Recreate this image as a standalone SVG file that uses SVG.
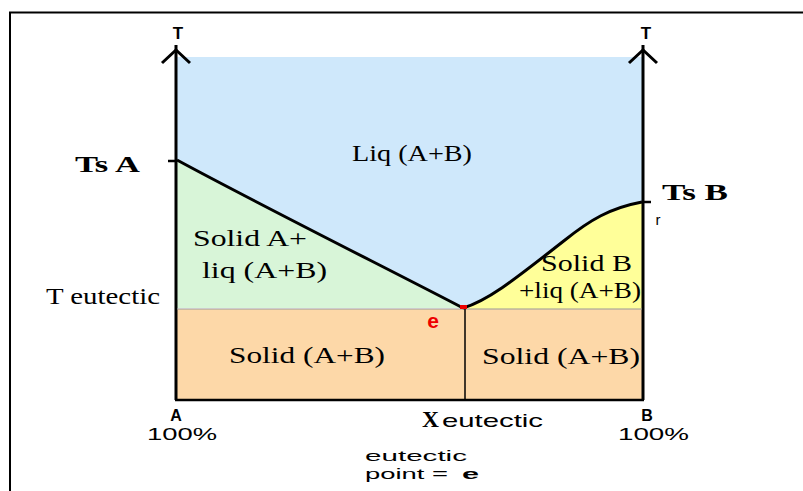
<svg xmlns="http://www.w3.org/2000/svg" width="803" height="491" viewBox="0 0 803 491">
<style>
.serif{font-family:"Liberation Serif","Times New Roman",serif;fill:#000}
.sans{font-family:"Liberation Sans",Arial,sans-serif;fill:#000}
.axis{stroke:#000;stroke-width:3;fill:none}
.curve{stroke:#000;stroke-width:3;fill:none}
</style>
<rect width="803" height="491" fill="#fff"/>
<path d="M10 491 V12.5 H803" fill="none" stroke="#000" stroke-width="2"/>
<g id="regions">
<path d="M177 57 H642 V202 C610 208 590 220 565 240 C520 275 490 300 463 308 C400 275 260 205 177 160 Z" fill="#cfe8fb"/>
<path d="M177 160 C260 205 400 275 463 308 H177 Z" fill="#d8f5d8"/>
<path d="M463 308 C490 300 520 275 565 240 C590 220 610 208 642 202 V309 H463 Z" fill="#ffff99"/>
<rect x="177" y="309" width="465" height="90" fill="#fdd8a8"/>
</g>
<g id="connectors">
<line class="axis" x1="176" y1="400" x2="176" y2="45"/>
<path d="M162 63 L176 50 L190 63" class="axis" stroke-width="3.5"/>
<line class="axis" x1="643" y1="400" x2="643" y2="45"/>
<path d="M629 63 L643 50 L657 63" class="axis" stroke-width="3.5"/>
<line x1="175" y1="400" x2="644" y2="400" stroke="#000" stroke-width="2.5"/>
<line x1="177" y1="309" x2="642" y2="309" stroke="#999" stroke-width="1.2"/>
<line x1="465" y1="309" x2="465" y2="400" stroke="#000" stroke-width="1.5"/>
<path class="curve" d="M177 160 C260 205 400 275 463 308"/>
<path class="curve" d="M463 308 C490 300 520 275 565 240 C590 220 610 208 642 202"/>
<line x1="168" y1="161" x2="177" y2="161" stroke="#000" stroke-width="2.5"/>
<line x1="642" y1="202" x2="651" y2="202" stroke="#000" stroke-width="2.5"/>
<rect x="460" y="305" width="7" height="4" fill="#e00"/>
</g>
<g id="labels">
<text class="sans" x="178" y="39" font-size="17" text-anchor="middle" font-weight="bold">T</text>
<text class="sans" x="646" y="39" font-size="17" text-anchor="middle" font-weight="bold">T</text>
<text class="serif" x="75" y="172" font-size="23" font-weight="bold" textLength="65" lengthAdjust="spacingAndGlyphs">Ts A</text>
<text class="serif" x="662" y="200" font-size="23" font-weight="bold" textLength="66" lengthAdjust="spacingAndGlyphs">Ts B</text>
<text class="sans" x="658" y="225" font-size="15" text-anchor="middle">r</text>
<text class="serif" x="352" y="161" font-size="23" textLength="120" lengthAdjust="spacingAndGlyphs">Liq (A+B)</text>
<text class="serif" x="193" y="246" font-size="23" textLength="114" lengthAdjust="spacingAndGlyphs">Solid A+</text>
<text class="serif" x="202" y="278" font-size="23" textLength="125" lengthAdjust="spacingAndGlyphs">liq (A+B)</text>
<text class="serif" x="541" y="271" font-size="23" textLength="91" lengthAdjust="spacingAndGlyphs">Solid B</text>
<text class="serif" x="519" y="298" font-size="23" textLength="122" lengthAdjust="spacingAndGlyphs">+liq (A+B)</text>
<text class="serif" x="46" y="304" font-size="23" textLength="114" lengthAdjust="spacingAndGlyphs">T eutectic</text>
<text class="sans" x="433" y="328" font-size="21" font-weight="bold" style="fill:#e00" text-anchor="middle">e</text>
<text class="serif" x="229" y="363" font-size="23" textLength="156" lengthAdjust="spacingAndGlyphs">Solid (A+B)</text>
<text class="serif" x="482" y="364" font-size="23" textLength="158" lengthAdjust="spacingAndGlyphs">Solid (A+B)</text>
<text class="sans" x="176" y="421" font-size="16" font-weight="bold" text-anchor="middle">A</text>
<text class="sans" x="147" y="440" font-size="17" textLength="70" lengthAdjust="spacingAndGlyphs">100%</text>
<text class="sans" x="647" y="421" font-size="16" font-weight="bold" text-anchor="middle">B</text>
<text class="sans" x="618" y="440" font-size="17" textLength="71" lengthAdjust="spacingAndGlyphs">100%</text>
<text class="serif" x="422" y="427" font-size="24" font-weight="bold" textLength="17" lengthAdjust="spacingAndGlyphs">X</text>
<text class="sans" x="442" y="427" font-size="19" textLength="101" lengthAdjust="spacingAndGlyphs">eutectic</text>
<text class="sans" x="365" y="461" font-size="15" textLength="102" lengthAdjust="spacingAndGlyphs">eutectic</text>
<text class="sans" x="365" y="479" font-size="15" textLength="83" lengthAdjust="spacingAndGlyphs">point =</text>
<text class="sans" x="462" y="479" font-size="15" font-weight="bold" textLength="17" lengthAdjust="spacingAndGlyphs">e</text>
</g>
</svg>
